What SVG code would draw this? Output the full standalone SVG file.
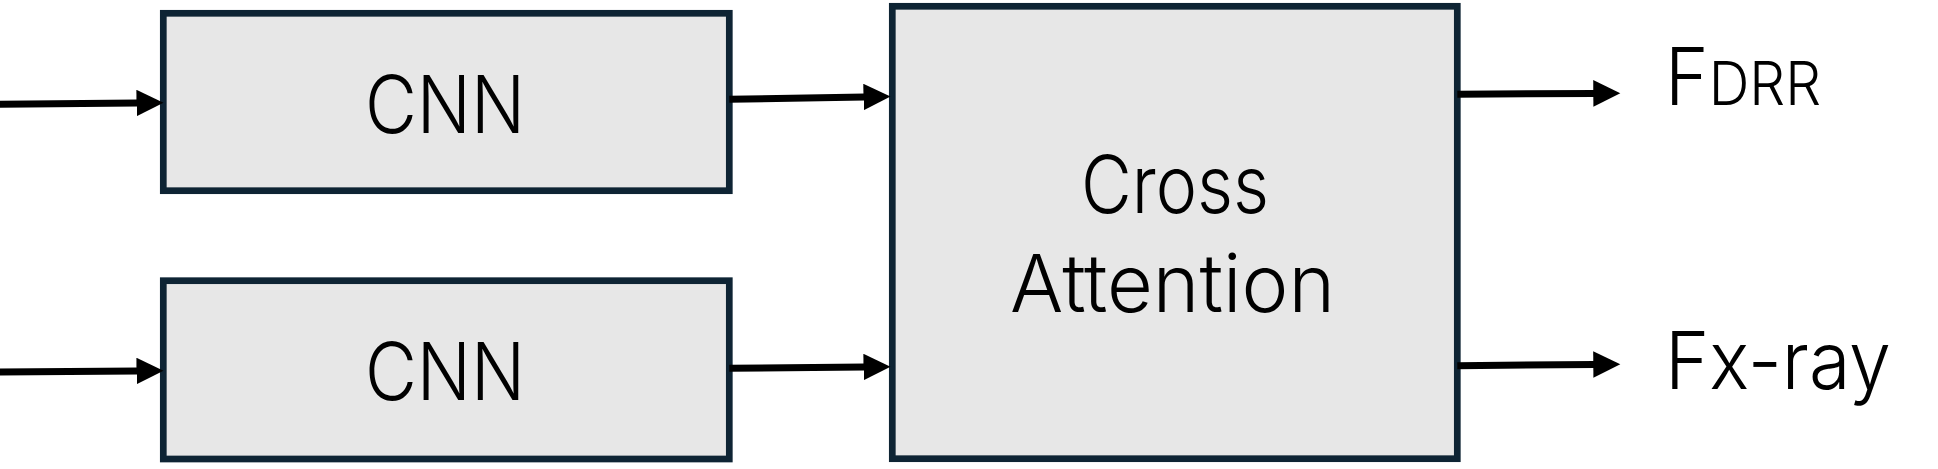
<svg xmlns="http://www.w3.org/2000/svg" width="1938" height="469" viewBox="0 0 1938 469">
<style>
.box{fill:#e7e7e7;stroke:#0e2434;stroke-width:6.7}
.lbl{font-family:Inter,Lato,"Liberation Sans",sans-serif;font-weight:300;font-size:80px;fill:#000}
.conn{stroke:#000;stroke-width:7;fill:none}
</style>
<defs>
<marker id="ah" markerUnits="userSpaceOnUse" markerWidth="28" markerHeight="27" refX="1" refY="13.3" orient="auto">
<path d="M0,0 L27,13.3 L0,26.6 Z" fill="#000"/>
</marker>
</defs>
<rect width="1938" height="469" fill="#fff"/>
<g id="cnn-top">
<rect class="box" x="163.3" y="13.3" width="566" height="177.4"/>
<text class="lbl" x="445" y="133.3" text-anchor="middle" textLength="160" lengthAdjust="spacingAndGlyphs">CNN</text>
</g>
<g id="cnn-bottom">
<rect class="box" x="163.3" y="280.7" width="566" height="178.3"/>
<text class="lbl" x="445" y="400" text-anchor="middle" textLength="160" lengthAdjust="spacingAndGlyphs">CNN</text>
</g>
<g id="cross-attention">
<rect class="box" x="892.3" y="6.3" width="565" height="452.4"/>
<text class="lbl" x="1175" y="213.3" text-anchor="middle" textLength="188" lengthAdjust="spacingAndGlyphs">Cross</text>
<text class="lbl" x="1172.5" y="311.7" text-anchor="middle" textLength="325" lengthAdjust="spacingAndGlyphs">Attention</text>
</g>
<g id="out-drr">
<text class="lbl" x="1665" y="105" textLength="156" lengthAdjust="spacingAndGlyphs">F<tspan font-size="61">DRR</tspan></text>
</g>
<g id="out-xray">
<text class="lbl" x="1665" y="389.3" textLength="226" lengthAdjust="spacingAndGlyphs">Fx-ray</text>
</g>
<g id="connectors">
<path class="conn" d="M0,104.3 L137.5,103" marker-end="url(#ah)"/>
<path class="conn" d="M0,372 L137.5,371" marker-end="url(#ah)"/>
<path class="conn" d="M729.3,99.3 L864.5,97" marker-end="url(#ah)"/>
<path class="conn" d="M729.3,368.3 L864.5,367" marker-end="url(#ah)"/>
<path class="conn" d="M1457.3,94.3 L1594.3,93.4" marker-end="url(#ah)"/>
<path class="conn" d="M1457.3,365.7 L1594.3,364.5" marker-end="url(#ah)"/>
</g>
</svg>
